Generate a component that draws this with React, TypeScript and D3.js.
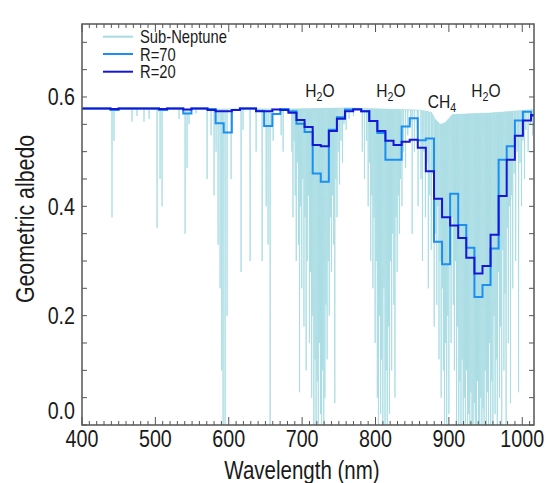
import React from 'react';
import * as d3 from 'd3';

const W = 546;
const H = 483;
const PL = 82, PR = 534, PT = 24, PB = 425;

// x axis labels
const xTickLabels = [400, 500, 600, 700, 800, 900, 1000];
const yTickLabels = [0.0, 0.2, 0.4, 0.6];

// bin edges (nm) shared by the binned spectra
const binEdges = [
  394.8, 405.8, 416.8, 427.8, 438.9, 449.9, 460.9, 471.9, 482.9, 494.0,
  505.0, 516.0, 527.0, 538.0, 549.1, 560.1, 571.1, 582.1, 593.1, 604.2,
  615.2, 626.2, 637.2, 648.2, 659.3, 670.3, 681.3, 692.3, 703.3, 714.4,
  725.4, 736.4, 747.4, 758.4, 769.5, 780.5, 791.5, 802.5, 813.5, 824.6,
  835.6, 846.6, 857.6, 868.6, 879.7, 890.7, 901.7, 912.7, 923.7, 934.8,
  945.8, 956.8, 967.8, 978.8, 989.9, 1000.9, 1011.9, 1022.9,
];

// R=70 binned albedo (one value per bin)
const r70 = [
  0.579, 0.579, 0.579, 0.579, 0.576, 0.579, 0.579, 0.579, 0.579, 0.579,
  0.576, 0.579, 0.579, 0.570, 0.579, 0.579, 0.578, 0.552, 0.535, 0.576,
  0.579, 0.579, 0.575, 0.547, 0.569, 0.578, 0.574, 0.551, 0.536, 0.460,
  0.445, 0.540, 0.563, 0.577, 0.578, 0.574, 0.556, 0.534, 0.485, 0.485,
  0.546, 0.561, 0.521, 0.524, 0.335, 0.294, 0.423, 0.366, 0.324, 0.234,
  0.256, 0.323, 0.485, 0.510, 0.557, 0.573, 0.565,
];

// R=20 binned albedo
const r20 = [
  0.579, 0.579, 0.579, 0.579, 0.578, 0.579, 0.579, 0.579, 0.579, 0.579,
  0.578, 0.579, 0.579, 0.577, 0.579, 0.579, 0.576, 0.574, 0.574, 0.576,
  0.579, 0.579, 0.574, 0.574, 0.577, 0.576, 0.571, 0.558, 0.545, 0.512,
  0.510, 0.538, 0.560, 0.574, 0.577, 0.574, 0.556, 0.538, 0.520, 0.512,
  0.518, 0.522, 0.507, 0.464, 0.414, 0.380, 0.365, 0.342, 0.306, 0.277,
  0.291, 0.348, 0.419, 0.485, 0.529, 0.557, 0.567,
];

// high-resolution sub-Neptune continuum
const contWave = [400, 680, 760, 860, 876, 881, 888, 895, 905, 960, 1016];
const contAlb = [0.578, 0.578, 0.58, 0.576, 0.572, 0.56, 0.55, 0.553, 0.568, 0.571, 0.577];

// absorption lines [wavelength nm, minimum albedo]
const linesVisible: [number, number][] = [
  [440.9, 0.38], [443.6, 0.52], [468.2, 0.555], [475.0, 0.565], [484.5, 0.555],
  [491.4, 0.56], [502.3, 0.36], [506.4, 0.45], [509.1, 0.40], [532.3, 0.56],
  [540.5, 0.35], [543.2, 0.47], [545.9, 0.55], [555.5, 0.57], [570.5, 0.45],
  [575.9, 0.53], [580.0, 0.42], [582.7, 0.50], [585.5, 0.33], [588.2, 0.25],
  [590.5, 0.10], [592.3, 0.0], [595.0, 0.0], [597.7, 0.20], [603.2, 0.45],
  [616.8, 0.28], [619.5, 0.54], [629.1, 0.30], [637.3, 0.50], [645.5, 0.30],
  [651.0, 0.40], [653.6, 0.33], [656.4, 0.0], [660.5, 0.52], [671.4, 0.53],
  [674.1, 0.50],
];

const linesH2O720: [number, number][] = [
  [686, 0.50], [687.5, 0.38], [689, 0.52], [690.5, 0.42], [692, 0.30],
  [693.5, 0.48], [695, 0.33], [696.5, 0.06], [698, 0.40], [699.5, 0.25],
  [701, 0.45], [702.5, 0.18], [704, 0.38], [705.5, 0.10], [707, 0.30],
  [708.5, 0.42], [710, 0.15], [711.5, 0.28], [713, 0.05], [714.5, 0.20],
  [716, 0.0], [717.5, 0.12], [719, 0.0], [720.5, 0.08], [722, 0.0],
  [723.5, 0.15], [725, 0.02], [726.5, 0.0], [728, 0.10], [729.5, 0.0],
  [731, 0.05], [732.5, 0.22], [734, 0.12], [735.5, 0.30], [737, 0.20],
  [738.5, 0.38], [740, 0.28], [741.5, 0.42], [743, 0.33], [744.5, 0.04],
  [746, 0.45], [747.5, 0.38], [749, 0.50], [751, 0.44], [753, 0.52],
  [755, 0.48], [757, 0.55], [760, 0.54], [764, 0.56], [770, 0.565],
];

const linesH2O820: [number, number][] = [
  [782, 0.50], [785, 0.45], [788, 0.52], [790, 0.40], [792, 0.48],
  [793.5, 0.30], [795, 0.42], [796.5, 0.25], [798, 0.38], [799.5, 0.15],
  [801, 0.30], [802.5, 0.05], [804, 0.0], [805.5, 0.20], [807, 0.02],
  [808.5, 0.12], [810, 0.0], [811.5, 0.25], [813, 0.0], [814.5, 0.10],
  [816, 0.0], [817.5, 0.18], [819, 0.02], [820.5, 0.30], [822, 0.10],
  [823.5, 0.35], [825, 0.22], [826.5, 0.05], [828, 0.38], [829.5, 0.28],
  [831, 0.42], [832.5, 0.35], [834, 0.45], [836, 0.40], [838, 0.50],
  [841, 0.47], [844, 0.53], [848, 0.55], [850, 0.35], [853, 0.50],
  [857, 0.54], [858, 0.40],
];

const linesNIR: [number, number][] = [
  [862, 0.45], [864, 0.30], [866, 0.50], [868, 0.38], [870, 0.48],
  [872, 0.25], [874, 0.42], [876, 0.32], [878, 0.46], [880, 0.18],
  [882, 0.35], [883.5, 0.22], [885, 0.40], [886.5, 0.12], [888, 0.30],
  [889.5, 0.05], [891, 0.25], [892.5, 0.10], [894, 0.0], [895.5, 0.15],
  [897, 0.0], [898.5, 0.20], [900, 0.02], [901.5, 0.30], [903, 0.15],
  [904.5, 0.38], [906, 0.22], [907.5, 0.10], [909, 0.30], [910.5, 0.0],
  [912, 0.18], [913.5, 0.0], [915, 0.08], [916.5, 0.0], [918, 0.12],
  [919.5, 0.0], [921, 0.05], [922.5, 0.0], [924, 0.10], [925.5, 0.0],
  [927, 0.02], [928.5, 0.0], [930, 0.06], [931.5, 0.0], [933, 0.0],
  [934.5, 0.04], [936, 0.0], [937.5, 0.0], [939, 0.08], [940.5, 0.0],
  [942, 0.0], [943.5, 0.05], [945, 0.0], [946.5, 0.03], [948, 0.0],
  [949.5, 0.10], [951, 0.0], [952.5, 0.06], [954, 0.0], [955.5, 0.15],
  [957, 0.0], [958.5, 0.08], [960, 0.0], [961.5, 0.20], [963, 0.02],
  [964.5, 0.12], [966, 0.0], [967.5, 0.28], [969, 0.05], [970.5, 0.18],
  [972, 0.0], [973.5, 0.32], [975, 0.10], [976.5, 0.24], [978, 0.0],
  [979.5, 0.36], [981, 0.15], [982.5, 0.40], [984, 0.04], [985.5, 0.42],
  [987, 0.25], [989, 0.46], [991, 0.30], [993, 0.50], [995, 0.06],
  [997, 0.48], [999, 0.40], [1001, 0.52], [1003, 0.45], [1005, 0.54],
  [1008, 0.50], [1011, 0.55], [1014, 0.53],
];

const legendLabels = ['Sub-Neptune', 'R=70', 'R=20'];
const colors = { sub: '#a6dbe3', r70: '#1e8ff0', r20: '#1616d6' };

const FONT = "'Liberation Sans', Arial, sans-serif";
const SX = 0.82;

function NT(props: { x: number; y: number; size: number; anchor?: string; rotate?: number; children: React.ReactNode }) {
  const { x, y, size, anchor, rotate, children } = props;
  const tf = `translate(${x},${y})${rotate ? ` rotate(${rotate})` : ''} scale(${SX},1)`;
  return (
    <text transform={tf} x={0} y={0} fontSize={size} textAnchor={anchor || 'start'} fill="#1a1a1a">
      {children}
    </text>
  );
}

export default function App() {
  const x = d3.scaleLinear().domain([400, 1016]).range([PL, PR]);
  const y = d3.scaleLinear().domain([0, 0.7335]).range([PB, PT]);

  const cont = d3.scaleLinear().domain(contWave).range(contAlb);
  const allLines = [...linesVisible, ...linesH2O720, ...linesH2O820, ...linesNIR];
  const pts: [number, number][] = contWave.map((w, i) => [w, contAlb[i]] as [number, number]);
  const hw = 0.3;
  allLines.forEach(([w, m]) => {
    pts.push([w - hw, cont(w - hw)], [w, m], [w + hw, cont(w + hw)]);
  });
  pts.sort((a, b) => a[0] - b[0]);
  const specPath = d3.line<[number, number]>().x(d => x(d[0])).y(d => y(d[1]))(pts) || '';

  const stepLine = d3.line<[number, number]>().x(d => x(d[0])).y(d => y(d[1])).curve(d3.curveStepAfter);
  const stepPts = (vals: number[]) => {
    const p: [number, number][] = vals.map((v, i) => [binEdges[i], v]);
    p.push([binEdges[vals.length], vals[vals.length - 1]]);
    return p;
  };
  const r70Path = stepLine(stepPts(r70)) || '';
  const r20Path = stepLine(stepPts(r20)) || '';

  const xMinor = d3.range(400, 1016, 10);
  const yMinor = d3.range(0, 0.7335, 0.05);
  const axisColor = '#555';

  const legendY = [36.7, 54, 71.7];
  const legendColors = [colors.sub, colors.r70, colors.r20];

  const annotations = [
    { x: 320, y: 96.5, main: 'H', sub: '2', tail: 'O' },
    { x: 391, y: 96.5, main: 'H', sub: '2', tail: 'O' },
    { x: 442, y: 108, main: 'CH', sub: '4', tail: '' },
    { x: 486, y: 96.5, main: 'H', sub: '2', tail: 'O' },
  ];

  return (
    <svg width={W} height={H} style={{ position: 'absolute', left: 0, top: 0, background: '#fff' }} fontFamily={FONT}>
      <defs>
        <clipPath id="plotclip">
          <rect x={PL} y={PT} width={PR - PL} height={PB - PT} />
        </clipPath>
      </defs>
      <rect x={0} y={0} width={W} height={H} fill="#fff" />
      <g clipPath="url(#plotclip)">
        <path d={specPath} fill="none" stroke={colors.sub} strokeWidth={0.85} />
        <path d={r70Path} fill="none" stroke={colors.r70} strokeWidth={2} />
        <path d={r20Path} fill="none" stroke={colors.r20} strokeWidth={2} />
      </g>
      {/* ticks */}
      <g stroke={axisColor} strokeWidth={1}>
        {xMinor.map(v => {
          const major = v % 100 === 0;
          const len = major ? 8 : 4;
          return (
            <g key={'xt' + v}>
              <line x1={x(v)} x2={x(v)} y1={PB} y2={PB - len} />
              <line x1={x(v)} x2={x(v)} y1={PT} y2={PT + len} />
            </g>
          );
        })}
        {yMinor.map((v, i) => (
          <g key={'yt' + i}>
            <line x1={PL} x2={PL + 5} y1={y(v)} y2={y(v)} />
            <line x1={PR} x2={PR - 5} y1={y(v)} y2={y(v)} />
          </g>
        ))}
      </g>
      <rect x={PL} y={PT} width={PR - PL} height={PB - PT} fill="none" stroke={axisColor} strokeWidth={1.5} />
      {/* tick labels */}
      {xTickLabels.map(v => (
        <NT key={'xl' + v} x={x(v)} y={447} size={24} anchor="middle">{String(v)}</NT>
      ))}
      {yTickLabels.map(v => (
        <NT key={'yl' + v} x={75} y={(v === 0 ? 410 : y(v)) + 8.5} size={24} anchor="end">{v.toFixed(1)}</NT>
      ))}
      <NT x={(PL + PR) / 2 - 6} y={479} size={25} anchor="middle">Wavelength (nm)</NT>
      <NT x={34} y={219} size={26} anchor="middle" rotate={-90}>Geometric albedo</NT>
      {/* legend */}
      {legendLabels.map((l, i) => (
        <g key={l}>
          <line x1={103} x2={133} y1={legendY[i]} y2={legendY[i]} stroke={legendColors[i]} strokeWidth={2} />
          <NT x={140} y={legendY[i] + 6.5} size={18}>{l}</NT>
        </g>
      ))}
      {/* annotations */}
      {annotations.map((a, i) => (
        <NT key={'an' + i} x={a.x} y={a.y} size={19} anchor="middle">
          {a.main}
          <tspan fontSize={13} dy={4}>{a.sub}</tspan>
          {a.tail ? <tspan dy={-4}>{a.tail}</tspan> : null}
        </NT>
      ))}
    </svg>
  );
}
